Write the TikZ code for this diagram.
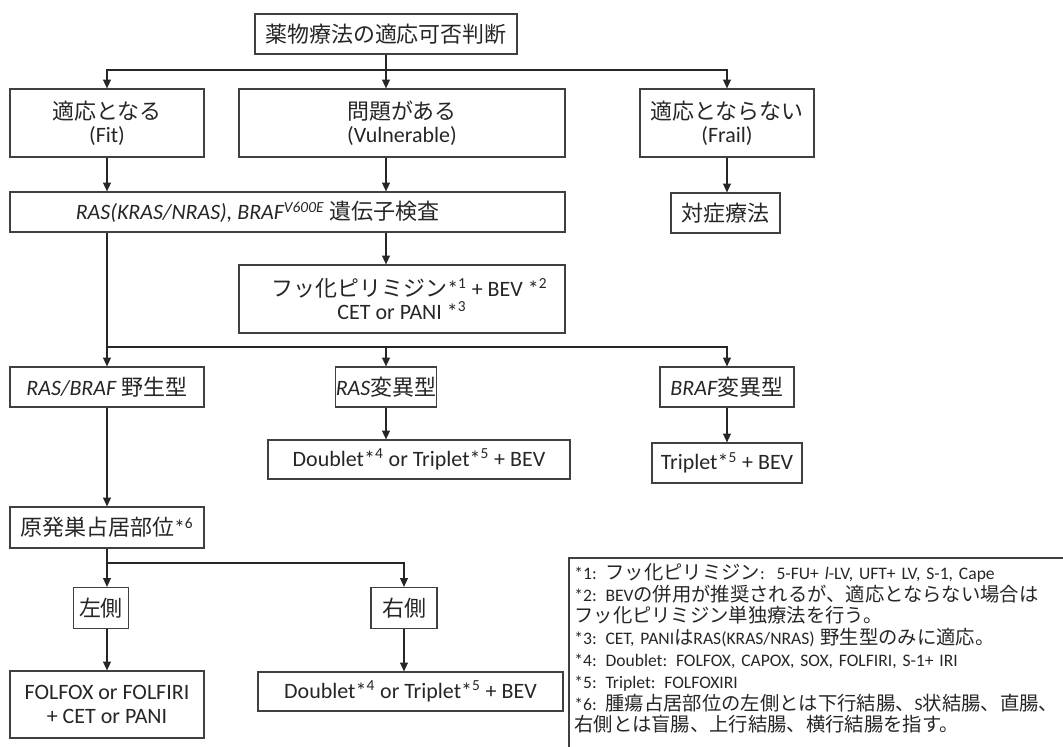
\documentclass[tikz,border=0pt]{standalone}
\usepackage{fontspec}
\setmainfont{Carlito}
\newfontfamily\jp{Noto Sans CJK JP}
\newfontfamily\jpnote[Scale=1.1]{Noto Sans CJK JP}
\usetikzlibrary{arrows.meta}
\tikzset{
  >={Triangle[width=4.5pt,length=5pt]},
  box/.style={draw=black!75, line width=0.7pt, text=black!85, align=center, inner sep=0pt,
    font=\fontsize{12.5}{13.2}\selectfont},
  boxwh/.style 2 args={minimum width=#1*0.02cm, minimum height=#2*0.02cm},
  line/.style={draw=black!85, line width=0.6pt},
}

\begin{document}
\begin{tikzpicture}[x=0.02cm,y=-0.02cm]
    \useasboundingbox (0,0) rectangle (1063,747);
    \node (title) [box, boxwh={262}{40}] at (386,34) {\jp 薬物療法の適応可否判断};
    \node (fit) [box, boxwh={194}{68}] at (107,123) {{\jp 適応となる}\\(Fit)};
    \node (vuln) [box, boxwh={326}{68}] at (402,123) {{\jp 問題がある}\\(Vulnerable)};
    \node (frail) [box, boxwh={174}{68}] at (727,123) {{\jp 適応とならない}\\(Frail)};
    \node (symp) [box, boxwh={109}{40}] at (725.5,213) {\jp 対症療法};
    \node (gene) [box, boxwh={555}{40}] at (287.5,212) {\textit{RAS(KRAS/NRAS), BRAF\textsuperscript{V600E}} {\jp 遺伝子検査}\hspace*{1.2cm}};
    \node (fluoro) [box, boxwh={326}{68}] at (402,299) {\hspace*{0.3cm}{\jp フッ化ピリミジン}*\textsuperscript{1} + BEV *\textsuperscript{2}\\CET or PANI *\textsuperscript{3}};
    \node (wild) [box, boxwh={194}{40}] at (107,387) {\textit{RAS/BRAF} {\jp 野生型}};
    \node (rasmut) [box, boxwh={90}{40}] at (386,387) {\textit{RAS}{\jp 変異型}};
    \node (brafmut) [box, boxwh={134}{40}] at (727,387) {\textit{BRAF}{\jp 変異型}};
    \node (rasreg) [box, boxwh={302}{39}] at (419,459.5) {Doublet*\textsuperscript{4} or Triplet*\textsuperscript{5} + BEV};
    \node (brafreg) [box, boxwh={150}{40}] at (727,463) {Triplet*\textsuperscript{5} + BEV};
    \node (site) [box, boxwh={194}{41}] at (107,527.5) {{\jp 原発巣占居部位}*\textsuperscript{6}};
    \node (left) [box, boxwh={55}{41}] at (101,608) {\jp 左側};
    \node (right) [box, boxwh={66}{41}] at (404,608) {\jp 右側};
    \node (leftreg) [box, boxwh={194}{67}] at (107,704.5) {FOLFOX or FOLFIRI\\+ CET or PANI};
    \node (rightreg) [box, boxwh={305}{39}] at (410.5,691.5) {Doublet*\textsuperscript{4} or Triplet*\textsuperscript{5} + BEV};
    \node (notes) [anchor=north west, text=black!85, align=left, text width=10cm,
      inner xsep=0.1cm, inner ysep=0.1cm, font=\fontsize{10}{12.4}\selectfont] at (569,558)
      {*1: {\jpnote フッ化ピリミジン}:\ \ 5-FU+ \textit{l}-LV, UFT+ LV, S-1, Cape\\{}
       *2: BEV{\jpnote の併用が推奨されるが、適応とならない場合は}\\
       {\jpnote フッ化ピリミジン単独療法を行う。}\\{}
       *3: CET, PANI{\jpnote は}RAS(KRAS/NRAS) {\jpnote 野生型のみに適応。}\\{}
       *4: Doublet: FOLFOX, CAPOX, SOX, FOLFIRI, S-1+ IRI\\{}
       *5: Triplet: FOLFOXIRI\\{}
       *6: {\jpnote 腫瘍占居部位の左側とは下行結腸、}S{\jpnote 状結腸、直腸、}\\
       {\jpnote 右側とは盲腸、上行結腸、横行結腸を指す。}};
    \draw[draw=black!75, line width=0.7pt] (notes.north west) rectangle (1075,760);
    \coordinate (b1) at (386,70);
    \draw[line] (title.south) -- (b1);
    \draw[line,->] (b1) -| (fit.north);
    \draw[line,->] (b1) -- (b1 |- vuln.north);
    \draw[line,->] (b1) -| (frail.north);
    \draw[line,->] (fit.south) -- (gene.north -| fit.south);
    \draw[line,->] (vuln.south -| b1) -- (gene.north -| b1);
    \draw[line,->] (frail.south) -- (symp.north -| frail.south);
    \draw[line,->] (gene.south -| b1) -- (fluoro.north -| b1);
    \coordinate (b2) at (107,347);
    \draw[line,->] (gene.south -| wild.north) -- (wild.north);
    \draw[line,->] (b2) -| (brafmut.north);
    \draw[line,->] (b2 -| rasmut.north) -- (rasmut.north);
    \draw[line,->] (rasmut.south) -- (rasreg.north -| rasmut.south);
    \draw[line,->] (brafmut.south) -- (brafreg.north);
    \draw[line,->] (wild.south) -- (site.north);
    \coordinate (b3) at (107,563);
    \draw[line] (site.south) -- (b3);
    \draw[line,->] (b3) -- (b3 |- left.north);
    \draw[line,->] (b3) -| (right.north);
    \draw[line,->] (left.south -| b3) -- (leftreg.north);
    \draw[line,->] (right.south) -- (rightreg.north -| right.south);
\end{tikzpicture}
\end{document}
